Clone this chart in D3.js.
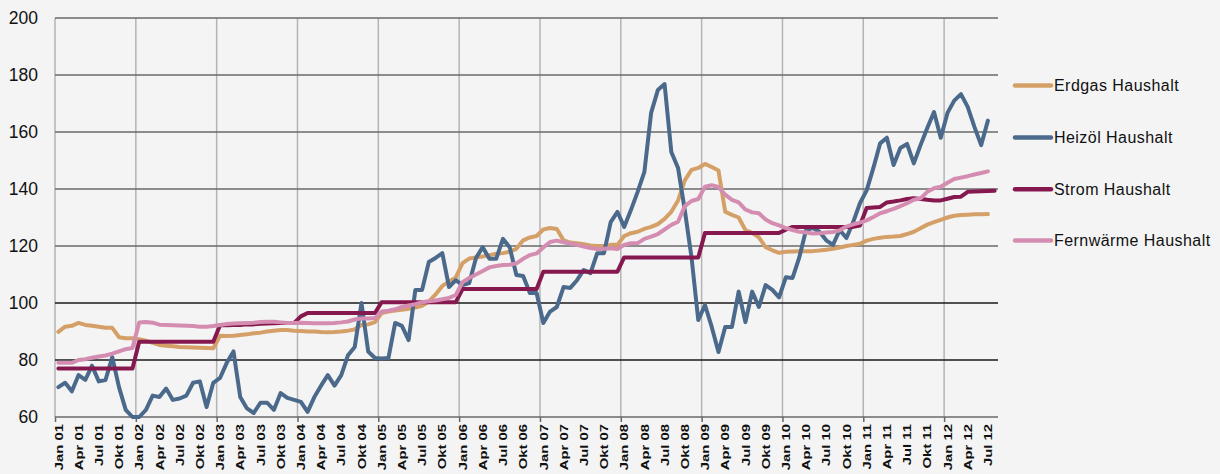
<!DOCTYPE html>
<html><head><meta charset="utf-8">
<script src="https://cdn.jsdelivr.net/npm/d3@7"></script>
<style>
html,body{margin:0;padding:0;background:#f4f4f4;}
svg{display:block;font-family:"Liberation Sans",Arial,sans-serif;}
</style></head>
<body>
<svg id="chart" width="1220" height="474"></svg>
<script>
// ---- data (monthly, Jan 01 .. Aug 12) ----
const years = ["01","02","03","04","05","06","07","08","09","10","11","12"];
const quarterNames = ["Jan","Apr","Jul","Okt"];
const nMonths = 140;
const yTicks = [60,80,100,120,140,160,180,200];
const seriesNames = ["Erdgas Haushalt","Heizöl Haushalt","Strom Haushalt","Fernwärme Haushalt"];
const seriesColors = ["#d4a068","#4b6a8b","#861850","#d48db1"];

const erdgas = [
 89.9,91.7,92,93,92.3,92,91.7,91.3,91.3,88,87.6,87.6,
 87.3,86.8,86,85.3,85,84.8,84.6,84.5,84.4,84.3,84.2,84.1,
 88.5,88.4,88.5,88.8,89,89.4,89.6,90,90.3,90.5,90.5,90.3,
 90.2,90,90,89.8,89.7,89.8,90,90.3,90.7,92.3,92.5,93.3,
 96.5,97,97.4,97.6,98,98.4,99,100.5,103,106,107.5,109,
 114,115.6,116,116.3,116.8,117.3,117.5,118,119,122,123,123.5,
 125.8,126.3,126,122,121.2,121,120.6,120.2,120,120,120.4,120.4,
 123.5,124.5,125,126,126.7,127.7,129.5,132,136,143,146.7,147.4,
 148.8,147.7,146.5,132,130.9,130,125.6,124.6,123,119.6,118.5,117.6,
 118,118.1,118.2,118.2,118.2,118.4,118.7,119,119.5,120,120.4,120.8,
 121.9,122.5,122.9,123.2,123.3,123.5,124.2,125,126.2,127.5,128.4,129.2,
 130,130.6,130.9,131,131.1,131.1,131.2];

const heizoel = [
 70.5,72,69,74.7,73,78,72.5,73,81,70.5,62.5,60,
 60,62.5,67.5,67,70,66,66.5,67.5,72,72.5,63.5,72,
 73.7,79,83,67,63,61.4,65,65,62.5,68.4,66.7,66,
 65.3,61.8,67,71,74.7,71,74.7,81.7,84.6,100,83,80.7,
 80.5,80.7,93,92,87,104.6,104.6,114.4,115.8,117.5,105.6,108,
 106.3,107,115.8,119.6,115.5,115.5,122.5,119.6,109.8,109.5,103.5,103.5,
 93,97,98.6,105.6,105.3,108,111.6,110.5,117.5,117.5,128.4,132,
 126.7,132.6,139,146,166.7,174.7,176.8,153,147.4,132.6,116,94,
 99.3,91.6,82.8,91.6,91.6,104,93.3,104,98.6,106.3,104.6,102,
 109,108.8,116,125.6,126.3,125,122,120.4,125.6,122.8,128.4,135,
 139.5,147.4,156,158,148.4,154.4,155.8,149,155.4,161.4,167,158,
 166.7,171,173.3,168.8,161.8,155.4,164];

const strom = [
 77,77,77,77,77,77,77,77,77,77,77,77,
 86.4,86.4,86.4,86.4,86.4,86.4,86.4,86.4,86.4,86.4,86.4,86.4,
 92.2,92.2,92.3,92.3,92.5,92.5,92.7,92.8,92.9,93,93,93,
 95.3,96.5,96.5,96.5,96.5,96.5,96.5,96.5,96.5,96.5,96.5,96.5,
 100.3,100.3,100.3,100.3,100.3,100.3,100.3,100.3,100.3,100.3,100.3,100.3,
 104.9,104.9,104.9,104.9,104.9,104.9,104.9,104.9,104.9,104.9,104.9,104.9,
 111,111,111,111,111,111,111,111,111,111,111,111,
 116,116,116,116,116,116,116,116,116,116,116,116,
 124.6,124.6,124.6,124.6,124.6,124.6,124.6,124.6,124.6,124.6,124.6,124.6,
 125.7,126.7,126.7,126.7,126.7,126.7,126.7,126.7,126.7,126.7,126.7,127.2,
 133.3,133.5,133.7,135.3,135.6,136,136.5,136.8,136.5,136.2,136,136,
 136.6,137.2,137.3,139,139.1,139.2,139.3,139.4];

const fernwaerme = [
 79,79,79,80,80.3,80.8,81.2,81.6,82.2,83,83.8,84.2,
 93.2,93.3,93.1,92.4,92.3,92.2,92.1,92,91.9,91.7,91.7,91.9,
 92.3,92.6,92.8,92.9,93,93.1,93.3,93.4,93.4,93.2,93,93,
 93.1,93,92.9,92.9,92.9,93,93.2,93.5,94.2,94.6,94.6,94.7,
 97,97.3,97.8,98.6,99.1,99.6,100.3,100.6,100.9,101.3,101.8,102.8,
 107.3,108.8,110,111.2,112.5,113,113.3,113.4,113.9,115.5,116.8,117.4,
 119.5,121.4,121.9,121.3,120.9,120.4,119.8,119.3,118.9,119,119.2,118.9,
 120.4,121,121,122.5,123.3,124.2,125.8,127.4,128.5,134,135.8,136.5,
 140.8,141.3,140.7,138,136.2,135.3,132.8,131.8,131.5,129.3,128,127.2,
 126.3,125.6,125,124.7,124.4,124.5,124.7,124.9,125.5,126.8,127.6,128.2,
 129,130.2,131.5,132.2,133,134,135,136.2,136.7,139,140.3,140.8,
 142.2,143.5,144,144.5,145.1,145.6,146.2];

const seriesValues = [erdgas, heizoel, strom, fernwaerme];

// ---- chart ----
const svg = d3.select("#chart");
const L = 55, R = 998, T = 18, B = 417;
const x = d3.scaleLinear().domain([0, nMonths]).range([L, R]);
const y = d3.scaleLinear().domain([60, 200]).range([B, T]);

// vertical gridlines at each January
const janIdx = years.map((_, i) => i * 12);
svg.append("g").selectAll("line").data(janIdx).join("line")
  .attr("x1", d => x(d)).attr("x2", d => x(d))
  .attr("y1", T).attr("y2", B)
  .attr("stroke", "#b4b4b4").attr("stroke-width", 1.5);

// horizontal gridlines
svg.append("g").selectAll("line").data(yTicks).join("line")
  .attr("x1", L).attr("x2", R)
  .attr("y1", d => y(d)).attr("y2", d => y(d))
  .attr("stroke", d => (d === 80 || d === 100) ? "#1a1a1a" : "#6a6a6a")
  .attr("stroke-width", 1.5);

// y axis labels
const yAxis = svg.append("g").attr("transform", `translate(${L},0)`)
  .call(d3.axisLeft(y).tickValues(yTicks).tickSize(0).tickPadding(17));
yAxis.select(".domain").remove();
yAxis.selectAll("text").attr("font-size", "17.5px")
  .attr("font-family", "'Liberation Sans',Arial,sans-serif").attr("fill", "#111");

// x axis ticks (January)
const xAxis = svg.append("g").attr("transform", `translate(0,${B})`)
  .call(d3.axisBottom(x).tickValues(janIdx).tickSize(5).tickFormat(""));
xAxis.select(".domain").remove();
xAxis.selectAll("line").attr("stroke", "#666").attr("stroke-width", 1.5);

// x labels every 3 months (centered on month)
const labelIdx = d3.range(0, nMonths, 3);
const labelText = i => quarterNames[(i % 12) / 3] + " " + years[Math.floor(i / 12)];
svg.append("g").selectAll("text").data(labelIdx).join("text")
  .attr("transform", d => `translate(${x(d + 0.5)},424) rotate(-90) scale(1.28,1)`)
  .attr("text-anchor", "end").attr("dy", "0.36em")
  .attr("font-size", "11.6px").attr("font-weight", "bold").attr("fill", "#111")
  .text(labelText);

// lines
const line = d3.line().x((d, i) => x(i + 0.5)).y(d => y(d));
svg.append("g").selectAll("path").data(seriesValues).join("path")
  .attr("d", d => line(d))
  .attr("fill", "none")
  .attr("stroke", (d, i) => seriesColors[i])
  .attr("stroke-width", 4)
  .attr("stroke-linejoin", "round").attr("stroke-linecap", "round");

// legend
const legY = [85.5, 137.5, 189.3, 240.5];
const leg = svg.append("g").selectAll("g").data(seriesNames).join("g")
  .attr("transform", (d, i) => `translate(1015,${legY[i]})`);
leg.append("line").attr("x1", 0).attr("x2", 36).attr("y1", 0).attr("y2", 0)
  .attr("stroke", (d, i) => seriesColors[i]).attr("stroke-width", 4.5)
  .attr("stroke-linecap", "round");
leg.append("text").attr("x", 39).attr("dy", "0.36em")
  .attr("font-size", "16px").attr("letter-spacing", "0.45px").attr("fill", "#111")
  .text(d => d);
</script>
</body></html>
